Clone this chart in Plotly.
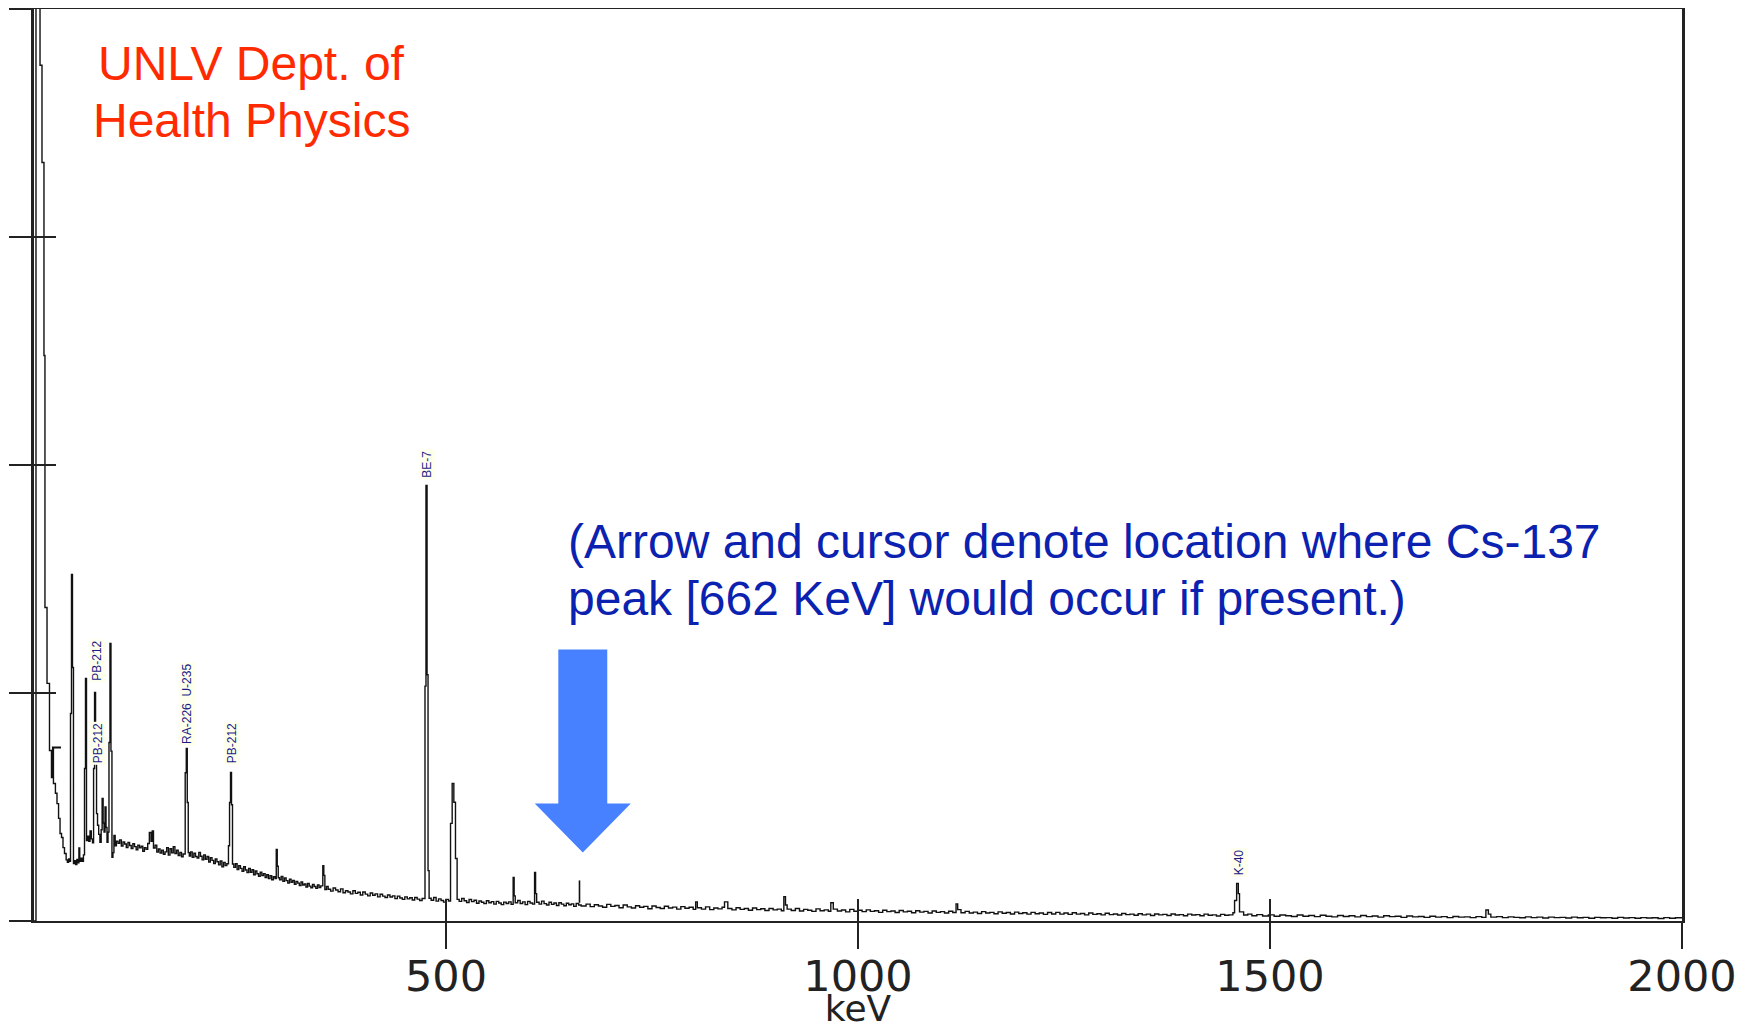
import plotly.graph_objects as go

# ---------------- data ----------------
SPECTRUM_KEV = [
    0, 2.4, 7.3, 9.7, 12.1, 13.3, 15.8, 18.8, 21.2, 23.6,
    26.0, 27.9, 29.8, 31.6, 33.4, 35.2, 37.0, 39.0, 40.5, 42.0,
    43.2, 44.3, 45.5, 46.7, 47.9, 49.1, 50.5, 52.0, 53.2, 54.5,
    55.5, 57.0, 58.5, 60.0, 61.3, 62.5, 63.7, 65.0, 66.5, 68.0,
    69.5, 71.0, 72.3, 73.5, 74.7, 75.9, 77.1, 78.5, 80.0, 81.5,
    82.7, 83.9, 85.0, 86.2, 87.4, 88.6, 89.8, 91.0, 92.2, 93.4,
    94.6, 95.8, 97.0, 98.5, 100, 102, 104, 106, 108, 110,
    112, 114, 116, 118, 120, 122, 124, 126, 128, 130,
    132, 134, 136, 138, 140, 142, 143.5, 145, 147, 149,
    151, 153, 155, 157, 159, 161, 163, 165, 167, 169,
    171, 173, 175, 177, 179, 181, 183.5, 184.8, 186.0, 187.2,
    188.5, 190, 192, 194, 196, 198, 200, 202, 204, 206,
    208, 210, 212, 214, 216, 218, 220, 222, 224, 226,
    228, 230, 232, 234, 236, 237.3, 238.5, 239.7, 240.9, 242.5,
    244.5, 246.5, 248.5, 250.5, 252.5, 254.5, 256.5, 258.5, 260.5, 262.5,
    264.5, 266.5, 268.5, 270.5, 272.5, 274.5, 276.5, 278.5, 280.5, 282.5,
    284.5, 286.5, 288.5, 290.5, 292.5, 294.0, 295.2, 296.4, 298, 300,
    302, 304, 306, 308, 310, 312, 314, 316, 318, 320,
    322, 324, 326, 328, 330, 332, 334, 336, 338, 340,
    342, 344, 346, 348, 350.5, 351.7, 353, 355, 357, 360,
    363, 366, 369, 372, 375, 378, 381, 384, 387, 390,
    393, 396, 399, 402, 405, 408, 411, 414, 417, 420,
    423, 426, 429, 432, 435, 438, 441, 444, 447, 450,
    453, 456, 459, 462, 465, 468, 471, 474.5, 475.7, 477.0,
    478.2, 479.5, 482, 485, 488, 491, 494, 497, 500, 503,
    505.5, 507.5, 509.5, 511.5, 513.5, 516, 519, 522, 525, 528,
    531, 534, 537, 540, 543, 546, 549, 552, 555, 558,
    561, 564, 567, 570, 573, 576, 579, 581.5, 582.7, 584,
    587, 590, 593, 596, 599, 602, 605, 607.5, 608.7, 610,
    613, 616, 619, 622, 625, 628, 631, 634, 637, 640,
    643, 646, 649, 652, 655, 658, 661, 664, 670, 675,
    680, 685, 690, 695, 700, 705, 710, 715, 720, 725,
    730, 735, 740, 745, 750, 755, 760, 765, 770, 775,
    780, 785, 790, 795, 800, 803, 805, 810, 815, 820,
    825, 830, 835, 838, 842, 847, 852, 857, 862, 867,
    872, 877, 882, 887, 892, 897, 902, 907, 910, 912,
    914, 919, 924, 929, 934, 939, 944, 949, 954, 959,
    964, 967, 970, 975, 980, 985, 990, 995, 1000, 1005,
    1010, 1015, 1020, 1025, 1030, 1035, 1040, 1045, 1050, 1055,
    1060, 1065, 1070, 1075, 1080, 1085, 1090, 1095, 1100, 1105,
    1110, 1115, 1119, 1121, 1125, 1130, 1135, 1140, 1145, 1150,
    1155, 1160, 1165, 1170, 1175, 1180, 1185, 1190, 1195, 1200,
    1205, 1210, 1215, 1220, 1225, 1230, 1235, 1240, 1245, 1250,
    1255, 1260, 1265, 1270, 1275, 1280, 1285, 1290, 1295, 1300,
    1305, 1310, 1315, 1320, 1325, 1330, 1335, 1340, 1345, 1350,
    1355, 1360, 1365, 1370, 1375, 1380, 1385, 1390, 1395, 1400,
    1405, 1410, 1415, 1420, 1425, 1430, 1435, 1440, 1445, 1450,
    1455, 1457, 1459.5, 1461.5, 1463, 1468, 1473, 1478, 1484, 1491,
    1498, 1505, 1512, 1519, 1526, 1533, 1540, 1547, 1554, 1561,
    1568, 1575, 1582, 1589, 1596, 1603, 1610, 1617, 1624, 1631,
    1638, 1645, 1652, 1659, 1666, 1673, 1680, 1687, 1694, 1701,
    1708, 1715, 1722, 1729, 1736, 1743, 1750, 1757, 1762, 1765,
    1768, 1775, 1782, 1789, 1796, 1803, 1810, 1817, 1824, 1831,
    1838, 1845, 1852, 1859, 1866, 1873, 1880, 1887, 1894, 1901,
    1908, 1915, 1922, 1929, 1936, 1943, 1950, 1957, 1964, 1971,
    1978, 1985, 1992, 2000,
]

SPECTRUM_COUNTS = [
    0, 6000, 3753, 3327, 2480, 1375, 1042, 748, 629, 603,
    560, 515, 450, 384, 366, 322, 296, 268, 257, 272,
    262, 910, 1520, 1112, 252, 265, 248, 270, 255, 320,
    262, 275, 262, 290, 669, 1064, 353, 372, 350, 395,
    360, 343, 669, 1002, 704, 471, 420, 380, 345, 400,
    537, 430, 390, 500, 410, 345, 390, 783, 1217, 745,
    279, 300, 375, 330, 350, 341, 356, 329, 347, 338,
    322, 344, 331, 318, 339, 326, 312, 333, 321, 328,
    306, 322, 314, 340, 388, 350, 395, 320, 333, 302,
    316, 298, 311, 293, 303, 322, 289, 317, 299, 326,
    296, 310, 287, 301, 282, 294, 650, 757, 520, 300,
    285, 303, 279, 297, 283, 276, 301, 284, 268, 290,
    271, 283, 259, 278, 266, 252, 272, 260, 246, 263,
    238, 257, 243, 251, 330, 520, 651, 510, 250, 235,
    251, 226, 243, 231, 218, 238, 224, 212, 231, 214,
    225, 203, 219, 207, 196, 214, 199, 208, 191, 203,
    186, 199, 181, 194, 186, 314, 240, 190, 181, 195,
    174, 189, 177, 166, 183, 170, 178, 161, 174, 166,
    155, 171, 158, 163, 149, 165, 153, 146, 160, 151,
    143, 158, 147, 154, 243, 200, 138, 152, 139, 131,
    145, 136, 128, 141, 124, 133, 127, 119, 133, 121,
    126, 114, 127, 118, 110, 123, 113, 119, 106, 117,
    109, 103, 114, 105, 110, 98, 109, 101, 95, 106,
    97, 102, 92, 103, 96, 90, 99, 1030, 1910, 1080,
    221, 100, 91, 103, 87, 97, 90, 83, 95, 88,
    428, 603, 521, 274, 95, 86, 99, 89, 81, 94,
    85, 91, 78, 88, 82, 76, 89, 80, 85, 74,
    86, 79, 72, 83, 77, 84, 73, 191, 110, 80,
    90, 77, 84, 72, 86, 79, 74, 213, 120, 82,
    74, 87, 76, 70, 82, 73, 79, 68, 80, 74,
    67, 78, 71, 75, 64, 77, 70, 66, 74, 63,
    71, 66, 60, 73, 64, 68, 58, 70, 62, 57,
    67, 60, 64, 54, 66, 59, 55, 65, 57, 61,
    52, 63, 56, 60, 51, 84, 58, 52, 62, 50,
    57, 53, 60, 84, 55, 49, 58, 51, 55, 47,
    57, 50, 54, 46, 55, 49, 52, 45, 107, 70,
    52, 46, 55, 44, 51, 47, 42, 53, 45, 49,
    43, 80, 52, 44, 48, 40, 51, 43, 47, 41,
    49, 42, 45, 38, 47, 41, 44, 37, 46, 40,
    43, 36, 45, 39, 42, 35, 44, 38, 41, 35,
    43, 37, 75, 50, 36, 42, 35, 39, 33, 41,
    35, 38, 32, 40, 34, 37, 31, 39, 33, 36,
    30, 38, 32, 35, 29, 37, 31, 38, 30, 35,
    29, 36, 30, 33, 27, 35, 29, 32, 27, 34,
    28, 31, 26, 33, 28, 30, 25, 32, 27, 30,
    24, 31, 27, 29, 24, 31, 26, 28, 23, 30,
    26, 28, 23, 30, 25, 27, 22, 29, 25, 27,
    36, 90, 165, 120, 40, 26, 30, 23, 28, 22,
    27, 21, 26, 23, 20, 26, 21, 24, 19, 25,
    21, 18, 24, 20, 23, 18, 24, 19, 22, 17,
    23, 19, 21, 16, 22, 18, 20, 16, 21, 17,
    19, 15, 20, 17, 18, 15, 19, 16, 48, 30,
    17, 19, 15, 18, 16, 14, 18, 15, 17, 13,
    17, 15, 16, 13, 17, 14, 16, 12, 16, 14,
    15, 12, 16, 13, 15, 12, 15, 13, 14, 11,
    15, 12, 14, 13,
]
assert len(SPECTRUM_KEV) == len(SPECTRUM_COUNTS)

# small ROI bracket drawn by the analysis software near 23-33 keV
ROI_KEV = [23.1, 23.1, 32.8]
ROI_COUNTS = [629, 761, 761]

# cursor at the Cs-137 line
CS137_KEV = 662
CURSOR_KEV = [662, 662]
CURSOR_COUNTS = [80, 178]

# nuclide labels
LABEL_TEXT = ["PB-212", "PB-212", "RA-226  U-235", "PB-212", "BE-7", "K-40"]
LABEL_KEV = [76.5, 77.7, 185.7, 240.3, 477.0, 1462.0]
LABEL_COUNTS = [1045, 683, 768, 683, 1933, 190]

X_TICKS = [500, 1000, 1500, 2000]
Y_TICKS = [0, 1000, 2000, 3000, 4000]

# ---------------- styling ----------------
# the page body adds an 8px offset, so the figure is 8px smaller than the window
W, H = 1735, 1021
M_L, M_R, M_T, M_B = 26, 61, 1, 108
AX_COLOR = "#222222"
TICK_FONT = dict(family="DejaVu Sans", size=43, color="#222222")
TITLE_FONT = dict(family="DejaVu Sans", size=36, color="#222222")

fig = go.Figure()

fig.add_trace(go.Scatter(
    x=SPECTRUM_KEV, y=SPECTRUM_COUNTS, mode="lines",
    line=dict(color="#111111", width=1.4, shape="hv"),
    showlegend=False, hoverinfo="x+y",
))
fig.add_trace(go.Scatter(
    x=ROI_KEV, y=ROI_COUNTS, mode="lines",
    line=dict(color="#111111", width=2.2),
    showlegend=False, hoverinfo="skip",
))
fig.add_trace(go.Scatter(
    x=CURSOR_KEV, y=CURSOR_COUNTS, mode="lines",
    line=dict(color="#111111", width=1.6),
    showlegend=False, hoverinfo="skip",
    xaxis="x2", yaxis="y2",
))

# arrow pointing at Cs-137 location (keV / counts geometry)
ARROW_CENTER = CS137_KEV + 4
SHAFT_HALF = 29.7
HEAD_HALF = 58.3
SHAFT_TOP = 1191
HEAD_BASE = 515
TIP = 300
arrow_path = (
    f"M {ARROW_CENTER - SHAFT_HALF} {SHAFT_TOP} "
    f"L {ARROW_CENTER + SHAFT_HALF} {SHAFT_TOP} "
    f"L {ARROW_CENTER + SHAFT_HALF} {HEAD_BASE} "
    f"L {ARROW_CENTER + HEAD_HALF} {HEAD_BASE} "
    f"L {ARROW_CENTER} {TIP} "
    f"L {ARROW_CENTER - HEAD_HALF} {HEAD_BASE} "
    f"L {ARROW_CENTER - SHAFT_HALF} {HEAD_BASE} Z"
)
fig.add_shape(type="path", path=arrow_path, xref="x", yref="y",
              fillcolor="#4781FF", line=dict(width=0))

annotations = []
for txt, kx, ky in zip(LABEL_TEXT, LABEL_KEV, LABEL_COUNTS):
    annotations.append(dict(
        x=kx, y=ky, xref="x", yref="y", text=txt, showarrow=False,
        textangle=-90, xanchor="center", yanchor="bottom",
        font=dict(family="Liberation Sans, Arial, sans-serif", size=12, color="#1C1C88"),
        bgcolor="#FFFFEE", borderpad=1,
    ))

RED = "#FF2A00"
BLUE = "#0B22B0"
TXT_FONT = "Liberation Sans, Arial, sans-serif"
for txt, yy in [("UNLV Dept. of", 0.9404), ("Health Physics", 0.8778)]:
    annotations.append(dict(
        x=0.1317, y=yy, xref="paper", yref="paper", text=txt, showarrow=False,
        xanchor="center", yanchor="middle",
        font=dict(family=TXT_FONT, size=48, color=RED),
    ))
for txt, yy in [("(Arrow and cursor denote location where Cs-137", 0.4162),
                ("peak [662 KeV] would occur if present.)", 0.3537)]:
    annotations.append(dict(
        x=0.3228, y=yy, xref="paper", yref="paper", text=txt, showarrow=False,
        xanchor="left", yanchor="middle",
        font=dict(family=TXT_FONT, size=48, color=BLUE),
    ))

fig.update_layout(
    width=W, height=H,
    margin=dict(l=M_L, r=M_R, t=M_T, b=M_B, pad=0),
    paper_bgcolor="white", plot_bgcolor="white",
    showlegend=False,
    annotations=annotations,
    xaxis=dict(
        range=[0, 2000], tickmode="array", tickvals=X_TICKS,
        ticktext=[str(v) for v in X_TICKS], automargin=False,
        ticks="outside", ticklen=26, tickwidth=2, tickcolor=AX_COLOR,
        ticklabelstandoff=-10,
        showline=True, linewidth=2, linecolor=AX_COLOR, mirror=True,
        showgrid=False, zeroline=False, tickfont=TICK_FONT,
        title=dict(text="keV", font=TITLE_FONT, standoff=4),
    ),
    xaxis2=dict(
        overlaying="x", matches="x", range=[0, 2000], tickmode="array",
        tickvals=X_TICKS, ticks="inside", ticklen=22, tickwidth=2,
        tickcolor=AX_COLOR, showticklabels=False, showline=False,
        showgrid=False, zeroline=False, automargin=False,
    ),
    yaxis=dict(
        range=[0, 4000], tickmode="array", tickvals=Y_TICKS,
        ticks="outside", ticklen=22, tickwidth=2, tickcolor=AX_COLOR,
        showticklabels=False, showline=True, linewidth=3, automargin=False,
        linecolor=AX_COLOR, mirror=True, showgrid=False, zeroline=False,
    ),
    yaxis2=dict(
        overlaying="y", matches="y", range=[0, 4000], tickmode="array",
        tickvals=Y_TICKS, ticks="inside", ticklen=22, tickwidth=2,
        tickcolor=AX_COLOR, showticklabels=False, showline=False,
        showgrid=False, zeroline=False, automargin=False,
    ),
)

fig.write_html("out.html")
